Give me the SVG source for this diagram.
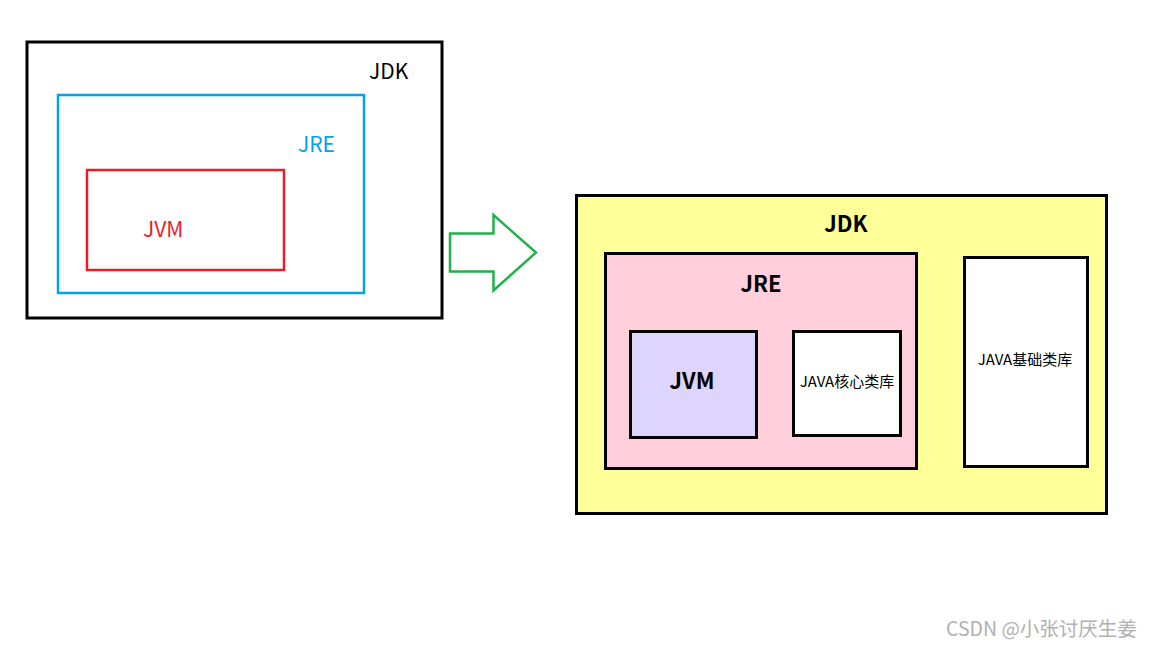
<svg xmlns="http://www.w3.org/2000/svg" width="1152" height="648" viewBox="0 0 1152 648">
<style>
text{font-family:"Noto Sans CJK SC","Liberation Sans",sans-serif}
.b{stroke:#000;stroke-width:3}
.lbl{font-size:21px}
.bold{font-size:22px;font-weight:bold;text-anchor:middle;fill:#000}
.small{font-size:15px;text-anchor:middle;fill:#000}
</style>
<rect width="1152" height="648" fill="#fff"/>
<g id="left-jdk">
<rect x="27" y="42" width="415" height="276" fill="none" class="b"/>
<text x="369" y="79" class="lbl" fill="#000">JDK</text>
</g>
<g id="left-jre">
<rect x="58" y="95" width="306" height="198" fill="none" stroke="#00a2e8" stroke-width="2.5"/>
<text x="298" y="152" class="lbl" fill="#00a2e8">JRE</text>
</g>
<g id="left-jvm">
<rect x="87" y="170" width="197" height="100" fill="none" stroke="#ed1c24" stroke-width="2.5"/>
<text x="143" y="237" class="lbl" fill="#ed1c24">JVM</text>
</g>
<g id="connectors">
<polygon points="450,233.5 493.5,233.5 493.5,215 536,252.5 493.5,290.5 493.5,271.5 450,271.5" fill="none" stroke="#22b14c" stroke-width="2.5"/>
</g>
<g id="right-jdk">
<rect x="576.5" y="195.5" width="530" height="318" fill="#ffff99" class="b"/>
<text x="846" y="232" class="bold">JDK</text>
</g>
<g id="right-jre">
<rect x="605.5" y="253.5" width="311" height="215" fill="#ffd0db" class="b"/>
<text x="761" y="292" class="bold">JRE</text>
</g>
<g id="right-jvm">
<rect x="630.5" y="331.5" width="126" height="106" fill="#ddd5fb" class="b"/>
<text x="692" y="389" class="bold">JVM</text>
</g>
<g id="core-lib">
<rect x="793.5" y="331.5" width="107" height="104" fill="#fff" class="b"/>
<text x="847" y="387" class="small">JAVA核心类库</text>
</g>
<g id="base-lib">
<rect x="964.5" y="257.5" width="123" height="209" fill="#fff" class="b"/>
<text x="1025" y="365" class="small">JAVA基础类库</text>
</g>
<text x="946" y="636" font-size="19.5" fill="#b0b0b0">CSDN @小张讨厌生姜</text>
</svg>
